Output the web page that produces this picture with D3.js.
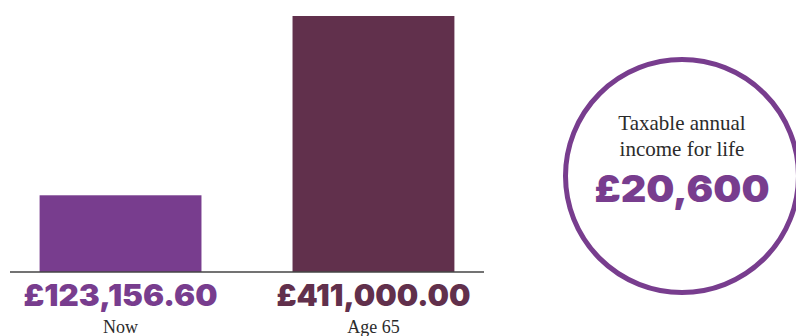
<!DOCTYPE html>
<html>
<head>
<meta charset="utf-8">
<script src="https://cdn.jsdelivr.net/npm/d3@7"></script>
<style>
  body { margin: 0; background: #fff; }
  svg { display: block; }
</style>
</head>
<body>
<script>
var categories = ["Now", "Age 65"];
var values = [123156.60, 411000.00];
var barColors = ["#783d8e", "#61304c"];
var incomeLabel = ["Taxable annual", "income for life"];
var incomeValue = 20600;

var width = 796, height = 336;
var baseY = 272, topY = 16;

var svg = d3.select("body").append("svg")
    .attr("width", width)
    .attr("height", height);

var x = d3.scaleBand()
    .domain(categories)
    .range([10, 484])
    .paddingInner(0.36)
    .paddingOuter(0.117);

var y = d3.scaleLinear()
    .domain([0, d3.max(values)])
    .range([baseY, topY]);

var data = categories.map(function (c, i) { return { cat: c, value: values[i], color: barColors[i] }; });

svg.selectAll(".bar")
    .data(data)
    .enter().append("rect")
    .attr("class", "bar")
    .attr("x", function (d) { return x(d.cat); })
    .attr("y", function (d) { return y(d.value); })
    .attr("width", x.bandwidth())
    .attr("height", function (d) { return baseY - y(d.value); })
    .style("fill", function (d) { return d.color; });

// baseline
svg.append("line")
    .attr("x1", 10).attr("x2", 484)
    .attr("y1", baseY).attr("y2", baseY)
    .style("stroke", "#444")
    .style("stroke-width", 1.3);

var money = d3.format(",.2f");

svg.selectAll(".val")
    .data(data)
    .enter().append("text")
    .attr("class", "val")
    .attr("x", function (d) { return x(d.cat) + x.bandwidth() / 2; })
    .attr("y", 306)
    .attr("text-anchor", "middle")
    .attr("textLength", 194)
    .attr("lengthAdjust", "spacingAndGlyphs")
    .style("font-family", "Inter, Roboto, sans-serif")
    .style("font-weight", 900)
    .style("font-size", "30px")
    .style("fill", function (d) { return d.color; })
    .text(function (d) { return "£" + money(d.value); });

svg.selectAll(".cat")
    .data(data)
    .enter().append("text")
    .attr("class", "cat")
    .attr("x", function (d) { return x(d.cat) + x.bandwidth() / 2; })
    .attr("y", 333)
    .attr("text-anchor", "middle")
    .style("font-family", "'Liberation Serif', serif")
    .style("font-size", "18px")
    .style("fill", "#2b2b2b")
    .text(function (d) { return d.cat; });

// income circle
var cx = 682, cy = 176;
svg.append("circle")
    .attr("cx", cx).attr("cy", cy).attr("r", 116.5)
    .style("fill", "none")
    .style("stroke", "#783d8e")
    .style("stroke-width", 5);

svg.selectAll(".inc")
    .data(incomeLabel)
    .enter().append("text")
    .attr("class", "inc")
    .attr("x", cx)
    .attr("y", function (d, i) { return 130 + i * 26; })
    .attr("text-anchor", "middle")
    .style("font-family", "'Liberation Serif', serif")
    .style("font-size", "21px")
    .style("fill", "#2b2b2b")
    .text(function (d) { return d; });

svg.append("text")
    .attr("x", cx)
    .attr("y", 202)
    .attr("text-anchor", "middle")
    .attr("textLength", 175)
    .attr("lengthAdjust", "spacingAndGlyphs")
    .style("font-family", "Inter, Roboto, sans-serif")
    .style("font-weight", 900)
    .style("font-size", "37px")
    .style("fill", "#783d8e")
    .text("£" + d3.format(",")(incomeValue));
</script>
</body>
</html>
